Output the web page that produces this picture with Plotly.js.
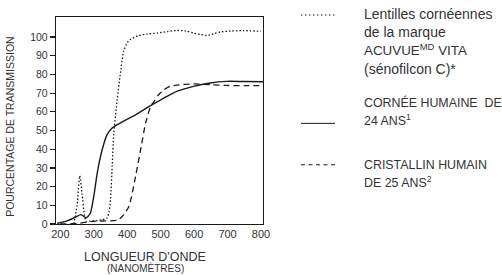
<!DOCTYPE html>
<html><head><meta charset="utf-8">
<script src="https://cdn.plot.ly/plotly-3.0.1.min.js"></script>
<style>html,body{margin:0;padding:0;background:#fff}#c{width:502px;height:275px}</style>
</head><body><div id="c"></div>
<script>
// Lentilles ACUVUE VITA (dotted)
const lensX = [240, 250, 258, 265, 272, 278, 290, 310, 325, 340, 346, 350, 355, 360, 370, 379, 389, 400, 409, 434, 460, 489, 520, 548, 575, 598, 620, 638, 660, 678, 710, 747, 800];
const lensY = [0, 10, 25.8, 16, 5, 1.2, 1.5, 1.8, 2.3, 3.2, 7, 13, 30.8, 48.7, 66.5, 79.8, 92.3, 97, 98.6, 100.8, 101.6, 102.1, 102.9, 103.5, 103.2, 102.1, 101.3, 100.8, 101.8, 102.7, 103.2, 103.4, 103.1];
// Cornée humaine 24 ans (solid)
const corneaX = [190, 216, 246, 261, 271, 276, 283, 290, 300, 310, 325, 340, 355, 365, 395, 425, 475, 548, 598, 648, 698, 750, 806];
const corneaY = [0.3, 1.4, 3.7, 5, 4, 3.2, 4.2, 5.9, 14.8, 27, 39.7, 47.8, 51.3, 52.6, 55.6, 58.4, 63.8, 70.9, 73.6, 75.4, 76.3, 76.2, 76.1];
// Cristallin humain 25 ans (dashed)
const crystX = [200, 250, 295, 325, 370, 385, 405, 425, 440, 455, 470, 480, 493, 510, 528, 548, 597, 650, 697, 750, 806];
const crystY = [0, 0.3, 1.4, 1.6, 2, 4, 9.4, 25.5, 39.7, 54, 62.9, 65.5, 69, 71.8, 73.6, 74.3, 74.9, 74.5, 74.1, 74, 74];
// Tick values
const xTicks = [200, 300, 400, 500, 600, 700, 800];
const yTicks = [0, 10, 20, 30, 40, 50, 60, 70, 80, 90, 100];
const UC = (s, sz) => '<span style="font-size:' + (sz || 12.4) + 'px">' + s + '</span>';
const legendTexts = [
  "Lentilles cornéennes<br>de la marque<br>" + UC("ACUVUE<sup>MD</sup> VITA", 13.4) + "<br>(sénofilcon C)*",
  UC("CORNÉE HUMAINE  DE") + "<br>" + UC("24 ANS<sup>1</sup>"),
  UC("CRISTALLIN HUMAIN") + "<br>" + UC("DE 25 ANS<sup>2</sup>")
];

const L = 56, R = 263, T = 17, B = 224.3;
const W = 502, H = 275;
const px = x => (x - L) / (R - L);
const py = y => (B - y) / (B - T);

const ink = '#1a1a1a';
const txt = '#333';
const traces = [
  {x: lensX, y: lensY, mode: 'lines', line: {color: ink, width: 1.3, dash: '1.5px,2px', shape: 'spline', smoothing: 0.6}, name: 'ACUVUE VITA'},
  {x: corneaX, y: corneaY, mode: 'lines', line: {color: ink, width: 1.4, shape: 'spline', smoothing: 0.6}, name: 'Cornée'},
  {x: crystX, y: crystY, mode: 'lines', line: {color: ink, width: 1.3, dash: '6px,4px', shape: 'spline', smoothing: 0.6}, name: 'Cristallin'}
];

const sans = 'Liberation Sans, Arial, sans-serif';

const legRows = [
  {y: 15, dash: 'dot', ty: 4},
  {y: 123.5, dash: 'solid', ty: 93},
  {y: 165, dash: 'dash', ty: 156}
];
const shapes = legRows.map(r => ({
  type: 'line', xref: 'paper', yref: 'paper',
  x0: px(301), x1: px(335), y0: py(r.y), y1: py(r.y),
  line: {color: ink, width: 1, dash: r.dash === 'dot' ? '1.5px,2.5px' : (r.dash === 'dash' ? '4px,3.5px' : 'solid')}
}));
const annotations = legRows.map((r, i) => ({
  xref: 'paper', yref: 'paper', x: px(362), y: py(r.ty), xanchor: 'left', yanchor: 'top',
  align: 'left', showarrow: false, text: legendTexts[i],
  font: {family: sans, size: 14, color: txt}
}));
annotations.push({
  xref: 'paper', yref: 'paper', x: px(145), y: py(257), xanchor: 'center', yanchor: 'middle',
  showarrow: false, text: "LONGUEUR D'ONDE", font: {family: sans, size: 12.5, color: txt}
});
annotations.push({
  xref: 'paper', yref: 'paper', x: px(145), y: py(268.5), xanchor: 'center', yanchor: 'middle',
  showarrow: false, text: "(NANOMÈTRES)", font: {family: sans, size: 10, color: txt}
});
annotations.push({
  xref: 'paper', yref: 'paper', x: px(10), y: py(127), xanchor: 'center', yanchor: 'middle',
  showarrow: false, textangle: -90, text: "POURCENTAGE DE TRANSMISSION", font: {family: sans, size: 10.5, color: txt}
});

const layout = {
  width: W, height: H,
  margin: {l: L, r: W - R, t: T, b: H - B, pad: 0},
  paper_bgcolor: '#fff', plot_bgcolor: '#fff',
  showlegend: false,
  xaxis: {
    range: [187, 806], tickvals: xTicks, ticktext: xTicks.map(String),
    showgrid: false, zeroline: false, showline: true, mirror: true,
    linecolor: ink, linewidth: 1.2, ticks: '', ticklen: 0,
    tickfont: {family: sans, size: 11, color: txt}
  },
  yaxis: {
    range: [0, 110.7], tickvals: yTicks, ticktext: yTicks.map(String),
    showgrid: false, zeroline: false, showline: true, mirror: true,
    linecolor: ink, linewidth: 1.2, ticks: 'outside', ticklen: 5, tickwidth: 1.2, tickcolor: ink,
    tickfont: {family: sans, size: 10.5, color: txt}
  },
  shapes: shapes,
  annotations: annotations
};
Plotly.newPlot('c', traces, layout, {displayModeBar: false, staticPlot: true});
</script></body></html>
